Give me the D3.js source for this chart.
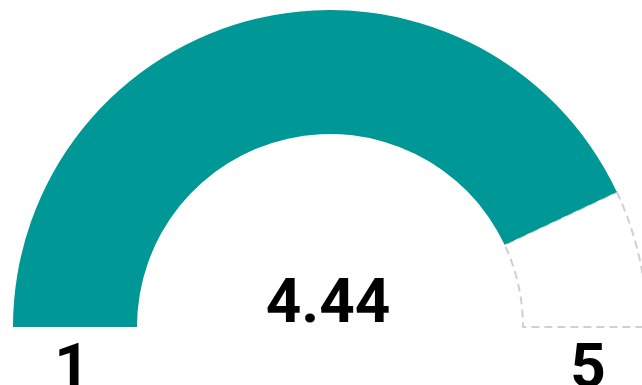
<!DOCTYPE html>
<html><head><meta charset="utf-8">
<script src="https://cdn.jsdelivr.net/npm/d3@7"></script>
<style>body{margin:0;background:#fff}svg{display:block}</style>
</head><body>
<svg id="c" width="642" height="385"></svg>
<script>
const minValue = 1;
const maxValue = 5;
const gaugeValue = [4.44];
const valueLabel = ["4.44"];
const endLabels = ["1", "5"];

const svg = d3.select("#c");
const cx = 330, cy = 327, rOuter = 317, rInner = 193;
const g = svg.append("g").attr("transform", `translate(${cx},${cy})`);

const angle = d3.scaleLinear().domain([minValue, maxValue]).range([-Math.PI/2, Math.PI/2]);
const arc = d3.arc().innerRadius(rInner).outerRadius(rOuter);

g.selectAll("path.bg").data(gaugeValue).join("path").attr("class","bg")
  .attr("d", d => arc({startAngle: angle(d), endAngle: angle(maxValue)}))
  .attr("fill", "#fff").attr("stroke", "#d0d0d0").attr("stroke-width", 2)
  .attr("stroke-dasharray", "8,5");

g.selectAll("path.val").data(gaugeValue).join("path").attr("class","val")
  .attr("d", d => arc({startAngle: angle(minValue), endAngle: angle(d)}))
  .attr("fill", "#009797");

g.append("text").text(valueLabel[0])
  .attr("x", -2).attr("y", -5).attr("text-anchor", "middle")
  .attr("font-family", "Roboto").attr("font-weight", "bold").attr("font-size", 62)
  .attr("fill", "#000");

const mid = (rInner + rOuter) / 2;
g.selectAll("text.end").data(endLabels).join("text").attr("class","end")
  .text(d => d)
  .attr("x", (d, i) => i === 0 ? -mid - 3 : mid + 3)
  .attr("y", 60).attr("text-anchor", "middle")
  .attr("font-family", "Roboto").attr("font-weight", "bold").attr("font-size", 62)
  .attr("fill", "#000");
</script>
</body></html>
